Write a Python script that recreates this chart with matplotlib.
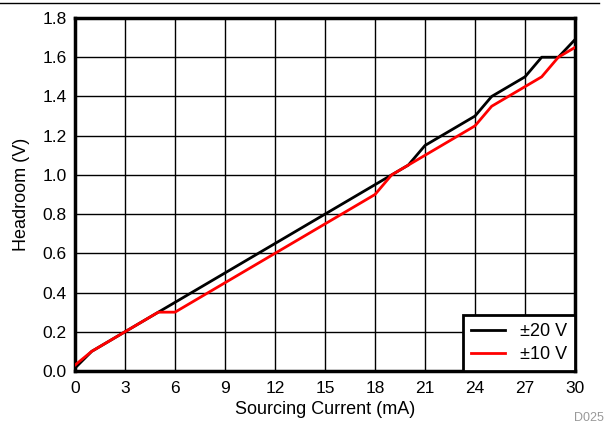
import numpy as np
import matplotlib.pyplot as plt
from matplotlib.lines import Line2D

plt.rcParams['font.family'] = ['Liberation Sans', 'DejaVu Sans']

# sourcing current (mA) and headroom (V)
i20 = [0, 1, 3, 5, 18, 19, 20, 21, 24, 25, 27, 28, 29, 30]
v20 = [0.015, 0.1, 0.2, 0.3, 0.95, 1.0, 1.05, 1.15, 1.3, 1.4, 1.5, 1.6, 1.6, 1.69]
i10 = [0, 1, 3, 5, 6, 18, 19, 24, 25, 28, 29, 30]
v10 = [0.03, 0.1, 0.2, 0.3, 0.3, 0.9, 1.0, 1.25, 1.35, 1.5, 1.6, 1.65]

xticks = np.arange(0, 31, 3)
yticks = np.arange(0, 1.81, 0.2)

fig = plt.figure(figsize=(6.05, 4.26), dpi=100)
ax = fig.add_axes([75/605, 55/426, 500/605, 353/426])

ax.plot(i20, v20, color='black', lw=2, label='±20 V', zorder=3)
ax.plot(i10, v10, color='red', lw=2, label='±10 V', zorder=3)

ax.set_xlim(0, 30)
ax.set_ylim(0, 1.8)
ax.set_xticks(xticks)
ax.set_yticks(yticks)
ax.set_yticklabels(['%.1f' % v for v in yticks])
ax.tick_params(length=0, labelsize=12.5)
ax.tick_params(axis='x', pad=7)
ax.tick_params(axis='y', pad=6)
ax.grid(True, color='black', lw=1)
ax.set_axisbelow(True)
for s in ax.spines.values():
    s.set_linewidth(2.5)

ax.set_xlabel('Sourcing Current (mA)', fontsize=13, labelpad=4)
ax.set_ylabel('Headroom (V)', fontsize=13, labelpad=9)

leg = ax.legend(loc='lower right', fontsize=13, fancybox=False, framealpha=1,
                edgecolor='black', borderaxespad=0, handlelength=1.9,
                borderpad=0.45, labelspacing=0.3)
leg.get_frame().set_linewidth(2)

fig.add_artist(Line2D([0, 0.99], [1 - 3/426, 1 - 3/426], color='black', lw=1))
fig.text(0.998, 0.005, 'D025', color='#999999', fontsize=9, ha='right', va='bottom')

plt.savefig('out.png', dpi=100)
